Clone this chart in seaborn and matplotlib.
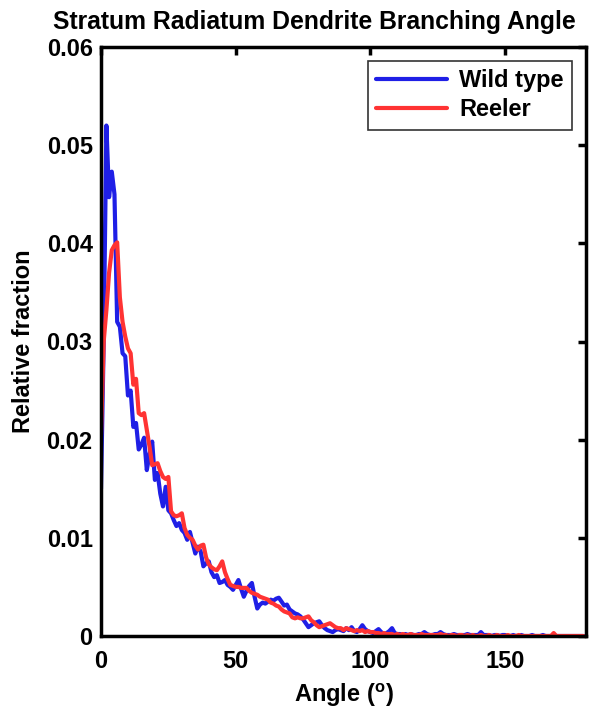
import numpy as np
import pandas as pd
import matplotlib
matplotlib.use("Agg")
import matplotlib.pyplot as plt
import seaborn as sns

# ---- data ----
angles = list(range(0, 180))

wild_type = [
    0.0150, 0.0300, 0.0520, 0.0447, 0.0473, 0.0450, 0.0320, 0.0315, 0.0288, 0.0285,
    0.0245, 0.0250, 0.0213, 0.0217, 0.0190, 0.0195, 0.0202, 0.0169, 0.0185, 0.0198,
    0.0159, 0.0166, 0.0145, 0.0132, 0.0152, 0.0128, 0.0125, 0.0118, 0.0112, 0.0115,
    0.0108, 0.0105, 0.0098, 0.0106, 0.0095, 0.0084, 0.0091, 0.0086, 0.0071, 0.0074,
    0.0076, 0.0065, 0.0060, 0.0062, 0.0054, 0.0055, 0.0057, 0.0052, 0.0050, 0.0047,
    0.0052, 0.0057, 0.0048, 0.0040, 0.0046, 0.0051, 0.0054, 0.0040, 0.0028, 0.0032,
    0.0034, 0.0033, 0.0035, 0.0037, 0.0036, 0.0038, 0.0039, 0.0035, 0.0031, 0.0032,
    0.0027, 0.0025, 0.0023, 0.0022, 0.0020, 0.0017, 0.0013, 0.0009, 0.0011, 0.0013,
    0.0014, 0.0015, 0.0011, 0.0008, 0.0006, 0.0005, 0.0004, 0.0006, 0.0007, 0.0006,
    0.0005, 0.0008, 0.0006, 0.0009, 0.0005, 0.0004, 0.0007, 0.0011, 0.0007, 0.0005,
    0.0004, 0.0003, 0.0005, 0.0007, 0.0004, 0.0002, 0.0003, 0.0005, 0.0008, 0.0003,
    0.0002, 0.0002, 0.0001, 0.0002, 0.0001, 0.0002, 0.0001, 0.0001, 0.0002, 0.0002,
    0.0004, 0.0002, 0.0001, 0.0001, 0.0002, 0.0002, 0.0004, 0.0002, 0.0001, 0.0001,
    0.0001, 0.0002, 0.0001, 0.0001, 0.0001, 0.0001, 0.0002, 0.0001, 0.0001, 0.0001,
    0.0001, 0.0004, 0.0001, 0.0001, 0.0001, 0.0000, 0.0001, 0.0001, 0.0000, 0.0001,
    0.0001, 0.0000, 0.0000, 0.0001, 0.0000, 0.0000, 0.0001, 0.0000, 0.0000, 0.0000,
    0.0001, 0.0000, 0.0000, 0.0000, 0.0001, 0.0000, 0.0000, 0.0000, 0.0000, 0.0000,
    0.0000, 0.0000, 0.0000, 0.0000, 0.0000, 0.0000, 0.0000, 0.0000, 0.0000, 0.0000,
]

reeler = [
    0.0205, 0.0300, 0.0332, 0.0370, 0.0393, 0.0398, 0.0401, 0.0345, 0.0320, 0.0305,
    0.0293, 0.0288, 0.0256, 0.0262, 0.0227, 0.0225, 0.0227, 0.0210, 0.0193, 0.0174,
    0.0175, 0.0176, 0.0168, 0.0162, 0.0160, 0.0162, 0.0127, 0.0123, 0.0122, 0.0123,
    0.0125, 0.0110, 0.0103, 0.0100, 0.0098, 0.0092, 0.0088, 0.0092, 0.0093, 0.0080,
    0.0073, 0.0070, 0.0068, 0.0067, 0.0071, 0.0076, 0.0065, 0.0058, 0.0052, 0.0051,
    0.0050, 0.0050, 0.0049, 0.0049, 0.0049, 0.0046, 0.0044, 0.0043, 0.0042, 0.0040,
    0.0039, 0.0038, 0.0037, 0.0034, 0.0033, 0.0031, 0.0030, 0.0027, 0.0025, 0.0024,
    0.0023, 0.0019, 0.0018, 0.0019, 0.0018, 0.0018, 0.0019, 0.0020, 0.0016, 0.0014,
    0.0011, 0.0009, 0.0010, 0.0011, 0.0012, 0.0013, 0.0011, 0.0009, 0.0008, 0.0008,
    0.0006, 0.0008, 0.0007, 0.0006, 0.0005, 0.0006, 0.0005, 0.0006, 0.0004, 0.0005,
    0.0004, 0.0004, 0.0003, 0.0003, 0.0002, 0.0003, 0.0002, 0.0002, 0.0002, 0.0001,
    0.0002, 0.0001, 0.0002, 0.0001, 0.0001, 0.0002, 0.0001, 0.0001, 0.0001, 0.0002,
    0.0001, 0.0001, 0.0001, 0.0001, 0.0001, 0.0001, 0.0002, 0.0001, 0.0001, 0.0000,
    0.0001, 0.0001, 0.0000, 0.0001, 0.0001, 0.0000, 0.0001, 0.0000, 0.0001, 0.0000,
    0.0000, 0.0001, 0.0000, 0.0000, 0.0001, 0.0000, 0.0000, 0.0001, 0.0000, 0.0000,
    0.0000, 0.0001, 0.0000, 0.0000, 0.0000, 0.0001, 0.0000, 0.0000, 0.0000, 0.0000,
    0.0000, 0.0000, 0.0000, 0.0000, 0.0000, 0.0000, 0.0000, 0.0000, 0.0003, 0.0000,
    0.0000, 0.0000, 0.0000, 0.0000, 0.0000, 0.0000, 0.0000, 0.0000, 0.0000, 0.0000,
]

series_names = ["Wild type", "Reeler"]
x_ticks = [0, 50, 100, 150]
y_ticks = [0, 0.01, 0.02, 0.03, 0.04, 0.05, 0.06]
y_tick_labels = ["0", "0.01", "0.02", "0.03", "0.04", "0.05", "0.06"]

df = pd.DataFrame({
    "Angle": angles * 2,
    "Fraction": wild_type + reeler,
    "Group": [series_names[0]] * len(angles) + [series_names[1]] * len(angles),
})

# ---- style ----
sns.set_style("white")
plt.rcParams["font.family"] = ["Liberation Sans", "DejaVu Sans"]
plt.rcParams["font.weight"] = "bold"
plt.rcParams["text.color"] = "black"
plt.rcParams["axes.labelcolor"] = "black"
plt.rcParams["xtick.color"] = "black"
plt.rcParams["ytick.color"] = "black"
plt.rcParams["mathtext.fontset"] = "custom"
plt.rcParams["mathtext.rm"] = "Liberation Sans:bold"
plt.rcParams["mathtext.bf"] = "Liberation Sans:bold"

fig = plt.figure(figsize=(6.13, 7.08), dpi=100)
ax = fig.add_axes([101 / 613, 72 / 708, 485 / 613, 589 / 708])

palette = {"Wild type": "#1f1fe6", "Reeler": "#ff3333"}
sns.lineplot(data=df, x="Angle", y="Fraction", hue="Group", palette=palette,
             linewidth=3, ax=ax, legend=True)

ax.set_xlim(0, 180)
ax.set_ylim(0, 0.06)
ax.set_xticks(x_ticks)
ax.set_xticklabels([str(t) for t in x_ticks])
ax.set_yticks(y_ticks)
ax.set_yticklabels(y_tick_labels)

ax.tick_params(axis="both", direction="in", length=6, width=2.5, top=True, right=True,
               labelsize=17, colors="black")
ax.tick_params(axis="x", pad=10)
ax.tick_params(axis="y", pad=6)
for lab in ax.get_xticklabels() + ax.get_yticklabels():
    lab.set_fontweight("bold")
for sp in ax.spines.values():
    sp.set_visible(True)
    sp.set_linewidth(2.5)
    sp.set_color("black")

ax.set_xlabel(r"Angle ($^{\mathbf{o}}$)", fontsize=17, fontweight="bold", labelpad=6)
ax.set_ylabel("Relative fraction", fontsize=17, fontweight="bold", labelpad=8)
ax.set_title("Stratum Radiatum Dendrite Branching Angle", fontsize=17.8,
             fontweight="bold", x=0.44, pad=13, color="black")

leg = ax.legend(loc="upper right", fontsize=17, frameon=True, fancybox=False,
                handlelength=3.0, borderpad=0.35, labelspacing=0.25,
                handletextpad=0.5, borderaxespad=0.6)
leg.get_frame().set_edgecolor("black")
leg.get_frame().set_linewidth(1.2)
for t in leg.get_texts():
    t.set_fontweight("bold")
    t.set_color("black")
for l in leg.get_lines():
    l.set_linewidth(3)

fig.savefig("out.png", dpi=100, facecolor="white")
